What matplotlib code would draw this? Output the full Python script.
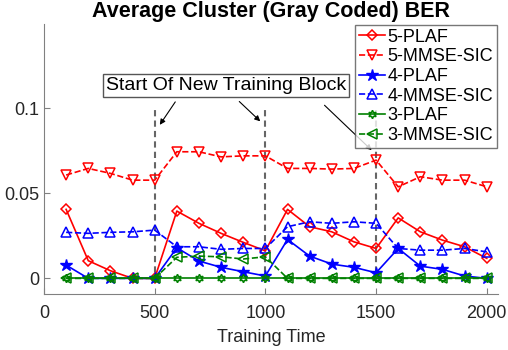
import matplotlib
matplotlib.use("Agg")
import matplotlib.pyplot as plt

plt.rcParams['font.family'] = ['Liberation Sans', 'DejaVu Sans']

# training time points
t = [100, 200, 300, 400, 500, 600, 700, 800, 900, 1000,
     1100, 1200, 1300, 1400, 1500, 1600, 1700, 1800, 1900, 2000]

plaf5 = [0.0406, 0.0104, 0.0045, 0.0, 0.0, 0.0396, 0.0324, 0.0265, 0.0212, 0.0162,
         0.0406, 0.0304, 0.0274, 0.0215, 0.0176, 0.0356, 0.0274, 0.0225, 0.0186, 0.0118]
mmse5 = [0.0608, 0.0647, 0.0618, 0.0578, 0.0578, 0.0745, 0.0745, 0.0715, 0.0721, 0.0721,
         0.0647, 0.0647, 0.0643, 0.0647, 0.0696, 0.0539, 0.0598, 0.0578, 0.0578, 0.0539]
plaf4 = [0.0078, 0.0, 0.0, 0.0, 0.0, 0.0180, 0.0102, 0.0065, 0.0039, 0.0014,
         0.0229, 0.0131, 0.0084, 0.0065, 0.0033, 0.0176, 0.0072, 0.0053, 0.0014, 0.0]
mmse4 = [0.0271, 0.0265, 0.0271, 0.0274, 0.0284, 0.0186, 0.0186, 0.0171, 0.0176, 0.0176,
         0.0304, 0.0333, 0.0324, 0.0333, 0.0324, 0.0176, 0.0166, 0.0166, 0.0176, 0.0156]
plaf3 = [0.0] * 20
mmse3 = [0.0, 0.0, 0.0, 0.0, 0.0, 0.0124, 0.0131, 0.0127, 0.0114, 0.0127,
         0.0, 0.0, 0.0, 0.0, 0.0, 0.0, 0.0, 0.0, 0.0, 0.0]

block_starts = [500, 1000, 1500]

fig = plt.figure(figsize=(5.08, 3.5), dpi=100)
ax = fig.add_axes([0.0866, 0.159, 0.8934, 0.772])

red, blue, green = '#ff0000', '#0000ff', '#008000'
lw = 1.2
ax.plot(t, plaf5, '-', color=red, marker='D', ms=5.5, mfc='none', mew=1.1, lw=lw, label='5-PLAF')
ax.plot(t, mmse5, '--', color=red, marker='v', ms=7, mfc='none', mew=1.1, lw=lw, label='5-MMSE-SIC')
ax.plot(t, plaf4, '-', color=blue, marker='*', ms=9, lw=lw, label='4-PLAF')
ax.plot(t, mmse4, '--', color=blue, marker='^', ms=7, mfc='none', mew=1.1, lw=lw, label='4-MMSE-SIC')
ax.plot(t, plaf3, '-', color=green, marker=(6, 1, 0), ms=6, mfc='none', mew=1.1, lw=lw, label='3-PLAF')
ax.plot(t, mmse3, '--', color=green, marker='<', ms=7, mfc='none', mew=1.1, lw=lw, label='3-MMSE-SIC')

for xb in block_starts:
    ax.plot([xb, xb], [-0.003, 0.1008], color='#666666', lw=1.5, ls=(0, (3, 2)), zorder=1)

ann_box = dict(boxstyle='square,pad=0.15', fc='white', ec='#555555', lw=1)
arrow = dict(arrowstyle='-|>', color='black', lw=0.8, mutation_scale=8)
ax.text(823, 0.1137, 'Start Of New Training Block', ha='center', va='center',
        fontsize=14, bbox=ann_box, zorder=5)
ax.annotate('', xy=(516, 0.089), xytext=(600, 0.1052), arrowprops=arrow)
ax.annotate('', xy=(986, 0.0913), xytext=(873, 0.1052), arrowprops=arrow)
ax.annotate('', xy=(1489, 0.0743), xytext=(1258, 0.1030), arrowprops=arrow)

ax.set_xlim(0, 2050)
ax.set_ylim(-0.0094, 0.1496)
ax.set_xticks([0, 500, 1000, 1500, 2000])
ax.set_yticks([0, 0.05, 0.1])
ax.set_yticklabels(['0', '0.05', '0.1'])
ax.set_xlabel('Training Time', fontsize=13, color='#262626', labelpad=5)
ax.set_title('Average Cluster (Gray Coded) BER', fontsize=15.5, fontweight='bold', pad=5)

for s in ['top', 'right']:
    ax.spines[s].set_visible(False)
for s in ['left', 'bottom']:
    ax.spines[s].set_color('#808080')
ax.tick_params(direction='in', length=4, color='#808080', labelsize=13, labelcolor='#262626')
ax.tick_params(axis='x', pad=8)

leg = ax.legend(loc='upper right', fontsize=13, frameon=True, fancybox=False,
                edgecolor='#555555', borderpad=0.2, labelspacing=0.15,
                handlelength=1.45, handletextpad=0.15, borderaxespad=0.05)
leg.get_frame().set_linewidth(1)

fig.savefig('out.png', dpi=100)
